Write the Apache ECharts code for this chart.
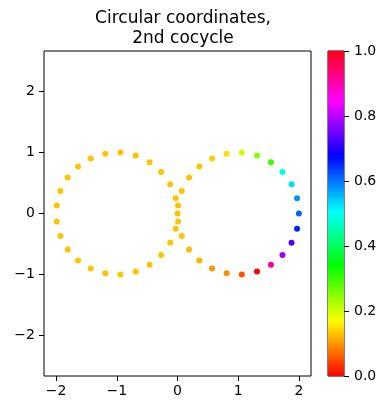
<!DOCTYPE html>
<html><head><meta charset="utf-8">
<script src="https://cdn.jsdelivr.net/npm/echarts@6/dist/echarts.min.js"></script>
<style>html,body{margin:0;padding:0;background:#fff}#c{width:383px;height:404px}</style>
</head><body><div id="c"></div>
<script>
// ---- data ----
const titleText = 'Circular coordinates,\n2nd cocycle';
const leftX = [0.00,-0.03,-0.12,-0.27,-0.46,-0.69,-0.94,-1.19,-1.43,-1.64,-1.81,-1.93,-1.99,-1.99,-1.93,-1.81,-1.64,-1.43,-1.19,-0.94,-0.69,-0.46,-0.27,-0.12,-0.03];
const leftY = [0.00,0.25,0.48,0.68,0.84,0.95,1.00,0.98,0.90,0.77,0.59,0.37,0.13,-0.13,-0.37,-0.59,-0.77,-0.90,-0.98,-1.00,-0.95,-0.84,-0.68,-0.48,-0.25];
const leftV = [0.13,0.13,0.13,0.13,0.13,0.13,0.13,0.13,0.13,0.13,0.13,0.13,0.13,0.13,0.13,0.13,0.13,0.13,0.13,0.13,0.13,0.13,0.13,0.13,0.13];
const rightX = [2.00,1.97,1.88,1.73,1.54,1.31,1.06,0.81,0.57,0.36,0.19,0.07,0.01,0.01,0.07,0.19,0.36,0.57,0.81,1.06,1.31,1.54,1.73,1.88,1.97];
const rightY = [0.00,0.25,0.48,0.68,0.84,0.95,1.00,0.98,0.90,0.77,0.59,0.37,0.13,-0.13,-0.37,-0.59,-0.77,-0.90,-0.98,-1.00,-0.95,-0.84,-0.68,-0.48,-0.25];
const rightV = [0.61,0.58,0.53,0.49,0.30,0.25,0.20,0.15,0.135,0.13,0.13,0.13,0.13,0.13,0.13,0.125,0.12,0.10,0.095,0.053,0.0,0.92,0.78,0.73,0.655];
const xTicks = [-2,-1,0,1,2];
const yTicks = [-2,-1,0,1,2];
const cbTicks = [0,0.2,0.4,0.6,0.8,1.0];

// ---- matplotlib 'hsv' colormap (style) ----
const segR = [[0,1],[10/63,1],[11/63,0.96875],[21/63,0.03125],[22/63,0],[42/63,0],[43/63,0.03125],[53/63,0.96875],[54/63,1],[1,1]];
const segG = [[0,0],[10/63,0.9375],[11/63,1],[32/63,1],[42/63,0.0625],[43/63,0],[1,0]];
const segB = [[0,0],[21/63,0],[22/63,0.0625],[32/63,1],[53/63,1],[54/63,0.9375],[1,0.09375]];
function seg(s,t){for(let i=1;i<s.length;i++){if(t<=s[i][0]+1e-12){const a=s[i-1],b=s[i];const f=(t-a[0])/(b[0]-a[0]||1);return a[1]+(b[1]-a[1])*f;}}return s[s.length-1][1];}
const cmap=[];for(let k=0;k<=63;k++){const t=k/63;const r=Math.round(seg(segR,t)*255),g=Math.round(seg(segG,t)*255),b=Math.round(seg(segB,t)*255);cmap.push('rgb('+r+','+g+','+b+')');}
const stops = cmap.map((c,k)=>({offset:k/63,color:c}));

const pts = [];
leftX.forEach((x,i)=>pts.push([x,leftY[i],leftV[i]]));
rightX.forEach((x,i)=>pts.push([x,rightY[i],rightV[i]]));

const FONT='DejaVu Sans';
const minus = v => String(v).replace('-','\u2212');
const chart = echarts.init(document.getElementById('c'),null,{renderer:'canvas'});
chart.setOption({
  animation:false,
  backgroundColor:'#fff',
  title:{text:titleText,left:178,textAlign:'center',top:4,
    textStyle:{fontFamily:FONT,fontSize:17,fontWeight:'normal',color:'#000',lineHeight:20}},
  grid:[
    {left:44,top:51,width:267,height:325,show:true,borderColor:'#000',borderWidth:1,containLabel:false},
    {left:328,top:51,width:16,height:325,show:true,borderColor:'#000',borderWidth:1,containLabel:false}
  ],
  xAxis:[
    {gridIndex:0,type:'value',min:-2.2,max:2.2,position:'bottom',axisLine:{show:false,onZero:false},splitLine:{show:false},
     axisTick:{show:true,length:5,lineStyle:{color:'#000',width:1},customValues:xTicks},
     axisLabel:{color:'#000',fontFamily:FONT,fontSize:14,margin:8,customValues:xTicks,formatter:minus}},
    {gridIndex:1,type:'category',data:['c'],show:false,boundaryGap:true}
  ],
  yAxis:[
    {gridIndex:0,type:'value',min:-2.66,max:2.66,position:'left',axisLine:{show:false,onZero:false},splitLine:{show:false},
     axisTick:{show:true,length:5,lineStyle:{color:'#000',width:1},customValues:yTicks},
     axisLabel:{color:'#000',fontFamily:FONT,fontSize:14,margin:9,customValues:yTicks,formatter:minus}},
    {gridIndex:1,type:'value',min:0,max:1,position:'right',axisLine:{show:false,onZero:false},splitLine:{show:false},
     axisTick:{show:true,length:5,lineStyle:{color:'#000',width:1},customValues:cbTicks},
     axisLabel:{color:'#000',fontFamily:FONT,fontSize:14,margin:10,customValues:cbTicks,formatter:v=>Number(v).toFixed(1)}}
  ],
  visualMap:{show:false,type:'continuous',seriesIndex:0,dimension:2,min:0,max:1,inRange:{color:cmap}},
  series:[
    {type:'scatter',xAxisIndex:0,yAxisIndex:0,data:pts,symbolSize:6,itemStyle:{opacity:1}},
    {type:'bar',xAxisIndex:1,yAxisIndex:1,data:[1],barWidth:'100%',silent:true,
     itemStyle:{color:new echarts.graphic.LinearGradient(0,1,0,0,stops)}}
  ]
});
</script></body></html>
